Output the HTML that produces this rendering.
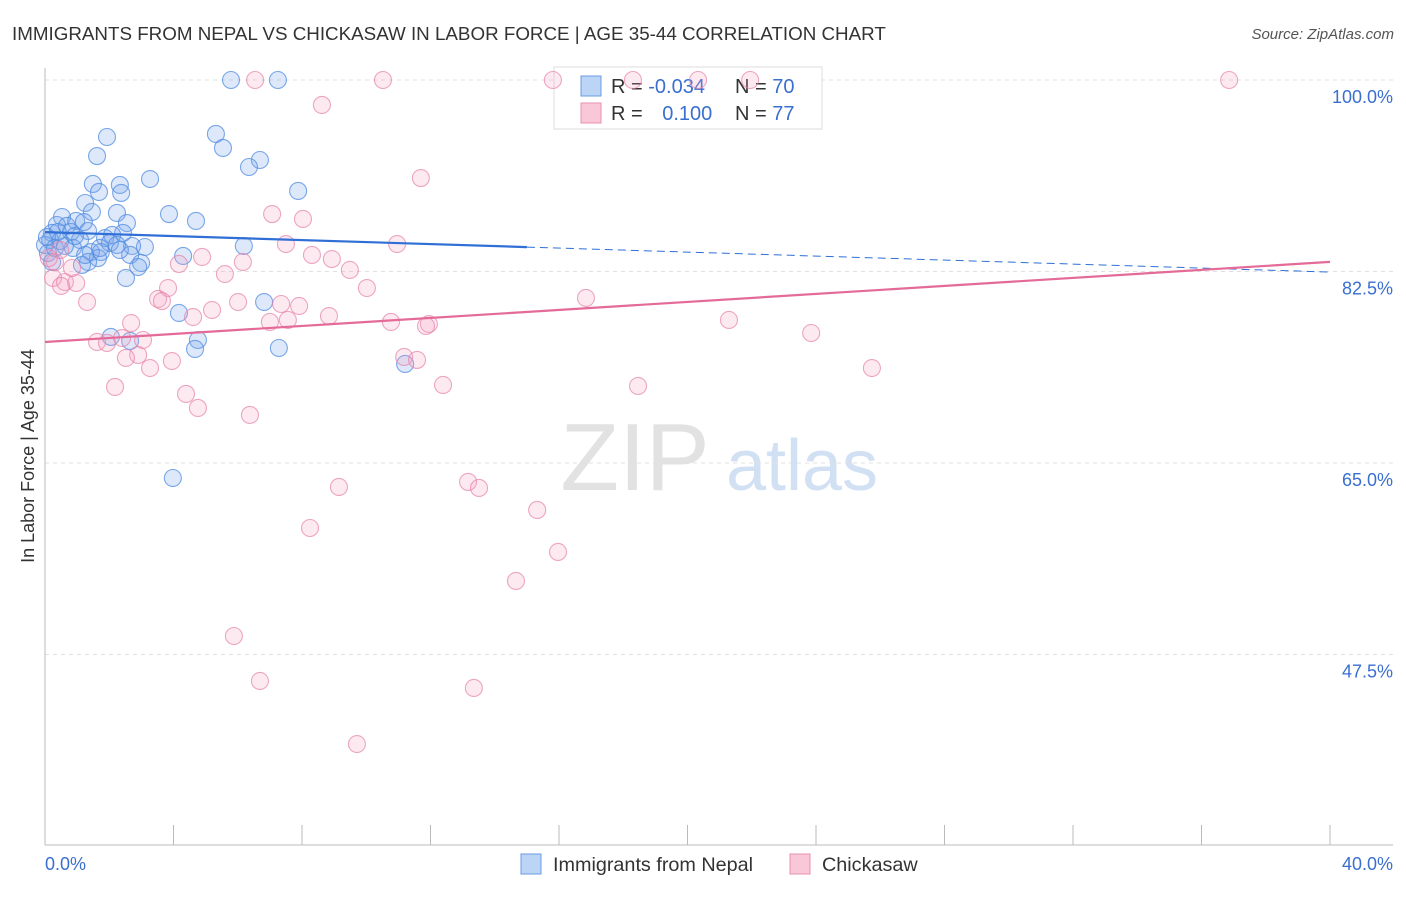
<!DOCTYPE html>
<html><head><meta charset="utf-8"><style>
body{margin:0;background:#fff;font-family:"Liberation Sans",sans-serif}
svg text{font-family:"Liberation Sans",sans-serif}
</style></head><body>
<svg id="chart" width="1406" height="892" xmlns="http://www.w3.org/2000/svg">
<text x="12" y="40" font-size="18.8" fill="#333">IMMIGRANTS FROM NEPAL VS CHICKASAW IN LABOR FORCE | AGE 35-44 CORRELATION CHART</text>
<text x="1394" y="39" font-size="15" fill="#555" text-anchor="end" font-style="italic">Source: ZipAtlas.com</text>
<text x="34" y="456" font-size="18" fill="#333" text-anchor="middle" transform="rotate(-90 34 456)">In Labor Force | Age 35-44</text>
<g><text x="635" y="490" font-size="96" fill="#e2e2e2" text-anchor="middle" font-family="Liberation Serif">ZIP</text><text x="802" y="490" font-size="72" fill="#d2e0f4" text-anchor="middle">atlas</text></g>
<g id="grid"></g><g id="axes"></g>
<g>
<rect x="554" y="67" width="268" height="62" fill="#fff" stroke="#ddd"/>
<rect x="581" y="76" width="20" height="20" fill="#bcd4f6" stroke="#6a9be0"/>
<rect x="581" y="103" width="20" height="20" fill="#f8c8d8" stroke="#e890b0"/>
<text x="611" y="93" font-size="20" fill="#333">R = <tspan fill="#3a6fd0">-0.034</tspan></text>
<text x="735" y="93" font-size="20" fill="#333">N = <tspan fill="#3a6fd0">70</tspan></text>
<text x="611" y="120" font-size="20" fill="#333">R = <tspan fill="#3a6fd0" dx="14">0.100</tspan></text>
<text x="735" y="120" font-size="20" fill="#333">N = <tspan fill="#3a6fd0">77</tspan></text>
</g>
<g id="pts"></g><g id="lines"></g>
<g>
<rect x="521" y="854" width="20" height="20" fill="#bcd4f6" stroke="#6a9be0"/>
<text x="553" y="871" font-size="19.8" fill="#333">Immigrants from Nepal</text>
<rect x="790" y="854" width="20" height="20" fill="#f8c8d8" stroke="#e890b0"/>
<text x="822" y="871" font-size="19.8" fill="#333">Chickasaw</text>
</g>
</svg>
<script>
const yTicks=[100,82.5,65,47.5];
const yTickLabels=["100.0%","82.5%","65.0%","47.5%"];
const blueX=[5.79,7.25,1.93,5.32,1.62,5.54,6.69,6.35,3.27,1.49,2.33,1.68,2.37,7.88,1.25,1.46,2.24,3.86,4.70,0.53,0.97,1.21,2.55,0.37,0.68,0.22,0.81,1.34,1.87,2.43,2.09,0.16,0.47,1.09,2.02,3.11,6.19,2.71,0.87,1.43,1.74,2.24,0.09,1.65,2.65,4.30,1.34,2.99,2.90,0.22,1.15,2.52,6.82,4.17,2.05,2.65,4.76,4.67,7.28,11.21,3.98,0.0,0.31,0.62,0.93,1.71,2.33,0.06,0.40,1.25];
const blueY=[100,100,94.79,95.07,93.05,93.79,92.69,92.05,90.95,90.50,90.41,89.77,89.68,89.86,88.76,87.94,87.85,87.75,87.12,87.48,87.12,87.02,86.93,86.75,86.66,86.02,86.11,86.20,85.56,86.02,85.84,85.38,85.29,85.38,85.11,84.74,84.83,84.83,84.65,84.28,84.28,84.92,84.19,83.73,84.01,83.92,83.37,83.28,82.91,83.37,83.10,81.91,79.71,78.71,76.52,76.15,76.24,75.42,75.51,74.05,63.63,84.92,84.65,84.83,85.74,84.65,84.47,85.65,86.11,84.01];
const pinkX=[6.54,10.52,15.81,18.30,20.33,21.95,36.86,8.62,11.70,7.07,8.03,10.96,7.50,8.31,4.89,8.93,9.49,4.17,6.16,5.60,0.25,0.62,0.97,0.50,3.83,10.02,16.84,1.31,3.52,3.64,6.01,7.35,7.91,5.20,4.61,8.84,10.77,7.00,7.56,11.95,11.86,21.29,23.85,2.68,1.62,1.93,3.05,2.40,11.18,11.58,2.90,2.52,3.27,25.74,3.95,18.46,12.39,2.18,4.39,4.76,6.38,13.17,13.51,9.15,15.32,8.25,15.97,14.66,5.88,6.69,13.35,9.71,0.31,0.47,0.84,0.12];
const pinkY=[100,100,100,100,100,100,100,97.72,91.04,87.75,87.30,85.01,85.01,84.01,83.83,83.64,82.64,83.19,83.37,82.27,81.91,81.54,81.45,81.18,80.99,80.99,80.08,79.71,79.99,79.80,79.71,79.53,79.35,78.98,78.34,78.43,77.89,77.89,78.07,77.70,77.52,78.07,76.88,77.79,76.06,75.97,76.24,76.42,74.69,74.42,74.87,74.60,73.68,73.68,74.32,72.04,72.13,71.95,71.31,70.03,69.39,63.27,62.72,62.81,60.71,59.06,56.87,54.22,49.19,45.08,44.44,39.32,83.37,84.47,82.82,83.73];
const blueTrend=[86.1,-0.0913];
const pinkTrend=[76.06,0.183];
const NS="http://www.w3.org/2000/svg";
const X=v=>45+v/40*1285, Y=v=>80+(100-v)/17.5*191.5;
function mk(t,a,p){const e=document.createElementNS(NS,t);for(const k in a)e.setAttribute(k,a[k]);document.getElementById(p).appendChild(e);return e;}
yTicks.forEach((t,i)=>{
 const g=mk('line',{x1:45,x2:1393,y1:Y(t),y2:Y(t),stroke:'#e0e0e0','stroke-dasharray':'4 4'},'grid');
 
 
 const l=mk('text',{x:1393,y:Y(t)+23,'font-size':18,fill:'#3a6fd0','text-anchor':'end'},'grid');
 l.textContent=yTickLabels[i];
 
 
});
const a1=mk('line',{x1:45,x2:45,y1:68,y2:845,stroke:'#bbb'},'axes');


const a2=mk('line',{x1:45,x2:1393,y1:845,y2:845,stroke:'#bbb'},'axes');


for(let i=0;i<=10;i++){const t=mk('line',{x1:X(i*4),x2:X(i*4),y1:825,y2:845,stroke:'#bbb'},'axes');
 
 }
[["0.0%",45,"start"],["40.0%",1393,"end"]].forEach(d=>{const t=mk('text',{x:d[1],y:870,'font-size':18,fill:'#3a6fd0','text-anchor':d[2]},'axes');t.textContent=d[0];
 
 });
function pts(xs,ys,fill,stroke,name){xs.forEach((x,i)=>{const c=mk('circle',{cx:X(x),cy:Y(ys[i]),r:8.5,fill:fill,stroke:stroke,'stroke-width':1.1},'pts');
 
 });}
pts(blueX,blueY,'rgba(120,165,235,0.25)','rgba(80,140,225,0.75)','nepal-point');
pts(pinkX,pinkY,'rgba(245,160,190,0.22)','rgba(230,130,170,0.7)','chickasaw-point');
const f=(t,x)=>t[0]+t[1]*x;
const b1=mk('line',{x1:X(0),y1:Y(f(blueTrend,0)),x2:X(15),y2:Y(f(blueTrend,15)),stroke:'#2f6fd6','stroke-width':2.2},'lines');


const b2=mk('line',{x1:X(15),y1:Y(f(blueTrend,15)),x2:X(40),y2:Y(f(blueTrend,40)),stroke:'#2f6fd6','stroke-width':1,'stroke-dasharray':'8 5'},'lines');


const p1=mk('line',{x1:X(0),y1:Y(f(pinkTrend,0)),x2:X(40),y2:Y(f(pinkTrend,40)),stroke:'#e46a98','stroke-width':2.2},'lines');


</script>
</body></html>
